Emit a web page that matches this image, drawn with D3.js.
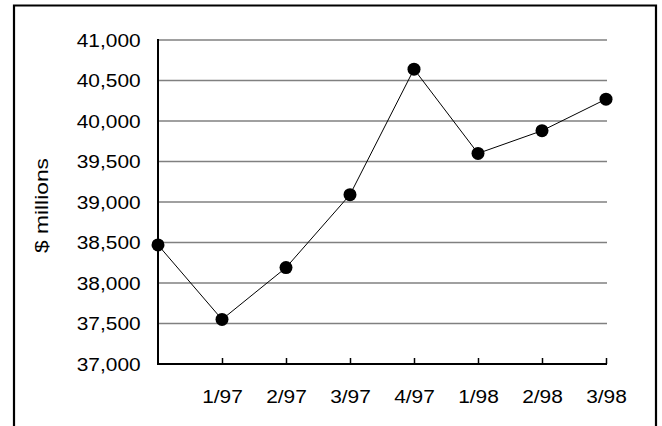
<!DOCTYPE html>
<html>
<head>
<meta charset="utf-8">
<script src="https://cdn.jsdelivr.net/npm/d3@7"></script>
<style>
  html, body { margin: 0; padding: 0; background: #fff; }
  svg { display: block; font-family: Arial, "Liberation Sans", sans-serif; }
</style>
</head>
<body>
<svg id="chart" width="662" height="426"></svg>
<script>
// Quarterly values, $ millions
const categories = ["", "1/97", "2/97", "3/97", "4/97", "1/98", "2/98", "3/98"];
const values = [38470, 37550, 38190, 39090, 40640, 39600, 39880, 40270];
const yTicks = [37000, 37500, 38000, 38500, 39000, 39500, 40000, 40500, 41000];
const yLabel = "$ millions";

const svg = d3.select("#chart");
const plot = { left: 158, right: 606, top: 40, bottom: 364 };
const fontSize = 19;
const stretch = 1.1; // slightly widened glyphs

// Outer frame (open at the bottom edge of the page)
svg.append("path")
  .attr("d", "M14,430 L14,5.5 L656,5.5 L656,430")
  .attr("fill", "none")
  .attr("stroke", "#000")
  .attr("stroke-width", 2.2);

const x = d3.scalePoint()
  .domain(d3.range(categories.length))
  .range([plot.left, plot.right]);

const y = d3.scaleLinear()
  .domain([37000, 41000])
  .range([plot.bottom, plot.top]);

// Horizontal gridlines
svg.append("g")
  .selectAll("line")
  .data(yTicks.filter(v => v > 37000))
  .join("line")
  .attr("x1", plot.left)
  .attr("x2", plot.right + 1)
  .attr("y1", d => y(d))
  .attr("y2", d => y(d))
  .attr("stroke", "#808080")
  .attr("stroke-width", 1.3);

// Y axis: labels only, axis line drawn separately
const yAxis = svg.append("g")
  .attr("transform", `translate(${plot.left},0)`)
  .call(d3.axisLeft(y).tickValues(yTicks).tickSize(0).tickPadding(15.8)
    .tickFormat(d3.format(",")));
yAxis.select(".domain").remove();
yAxis.selectAll("text")
  .attr("font-size", fontSize)
  .attr("font-family", "Arial, 'Liberation Sans', sans-serif")
  .attr("transform", `scale(${stretch},1)`)
  .attr("fill", "#000");

// X axis with inward ticks
const xAxis = svg.append("g")
  .attr("transform", `translate(0,${plot.bottom})`)
  .call(d3.axisBottom(x).tickSizeInner(-6).tickSizeOuter(0).tickPadding(25.5)
    .tickFormat(i => categories[i]));
xAxis.select(".domain").remove();
xAxis.selectAll(".tick line")
  .attr("stroke", "#000")
  .attr("stroke-width", 1.5)
  .attr("display", (d, i) => i === 0 ? "none" : null);
xAxis.selectAll("text")
  .attr("font-size", fontSize)
  .attr("font-family", "Arial, 'Liberation Sans', sans-serif")
  .attr("transform", `scale(${stretch},1)`)
  .attr("fill", "#000");

// Axis lines
svg.append("path")
  .attr("d", `M${plot.left},${plot.top - 1} L${plot.left},${plot.bottom} L${plot.right + 1},${plot.bottom}`)
  .attr("fill", "none")
  .attr("stroke", "#000")
  .attr("stroke-width", 2);

// Y axis title
svg.append("text")
  .attr("transform", `translate(48,205.5) rotate(-90)`)
  .attr("text-anchor", "middle")
  .attr("font-size", fontSize)
  .attr("textLength", 95)
  .attr("lengthAdjust", "spacingAndGlyphs")
  .attr("fill", "#000")
  .text(yLabel);

// Series line and markers
const line = d3.line()
  .x((d, i) => x(i))
  .y(d => y(d));

svg.append("path")
  .datum(values)
  .attr("d", line)
  .attr("fill", "none")
  .attr("stroke", "#000")
  .attr("stroke-width", 1);

svg.append("g")
  .selectAll("circle")
  .data(values)
  .join("circle")
  .attr("cx", (d, i) => x(i))
  .attr("cy", d => y(d))
  .attr("r", 6.5)
  .attr("fill", "#000");
</script>
</body>
</html>
